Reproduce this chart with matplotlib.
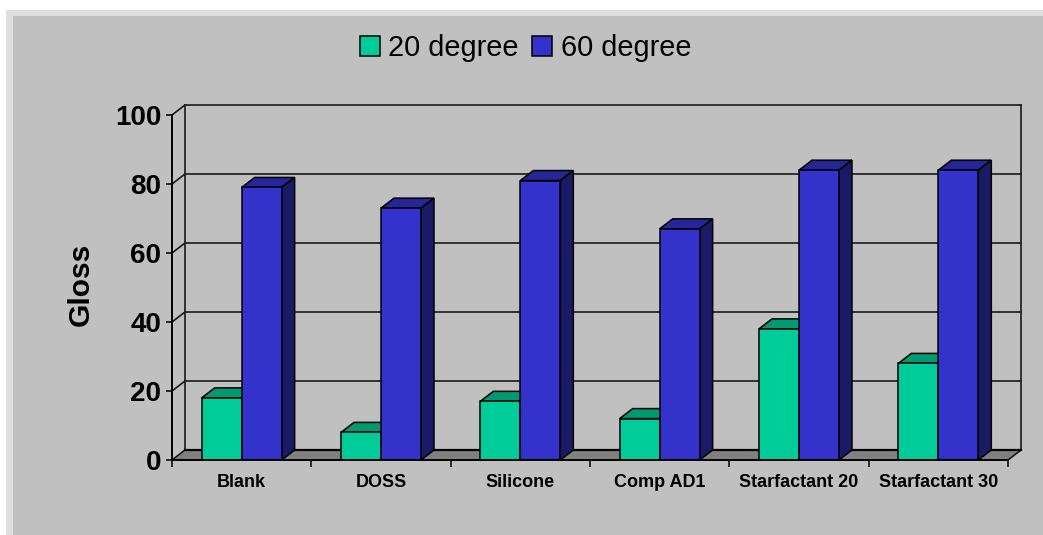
import matplotlib.pyplot as plt
from matplotlib.patches import Polygon, Rectangle

plt.rcParams['font.family'] = ['Liberation Sans', 'DejaVu Sans']

categories = ['Blank', 'DOSS', 'Silicone', 'Comp AD1', 'Starfactant 20', 'Starfactant 30']
gloss_20 = [18, 8, 17, 12, 38, 28]
gloss_60 = [79, 73, 81, 67, 84, 84]
y_ticks = [0, 20, 40, 60, 80, 100]

W, H = 1043, 535
bar_w = 0.287
# fake 3d depth, in data units
dx = 13 / 139.4
dy = 10 / 3.45

fig = plt.figure(figsize=(W / 100, H / 100), dpi=100, facecolor='white')

# chart area background with its lighter border
fig.patches.append(Rectangle((6 / W, 0), 1 - 6 / W, 1 - 10 / H, transform=fig.transFigure, fc='#dedede', ec='none', zorder=-3))
fig.patches.append(Rectangle((13 / W, 0), 1 - 13 / W, 1 - 16 / H, transform=fig.transFigure, fc='#c0c0c0', ec='none', zorder=-2))

ax = fig.add_axes([172 / W, 1 - 460 / H, 836 / W, 345 / H])
ax.patch.set_visible(False)
ax.set_xlim(0, len(categories))
ax.set_ylim(0, 100)

n = len(categories)

# floor
ax.add_patch(Polygon([(0, 0), (dx, dy), (n + dx, dy), (n, 0)], fc='#808080', ec='none', clip_on=False, zorder=1))
ax.plot([dx, n + dx], [dy, dy], color='black', lw=1.6, clip_on=False, zorder=1.5)

# grid lines on the side and back walls
for t in y_ticks[1:]:
	ax.plot([0, dx, n + dx], [t, t + dy, t + dy], color='#1a1a1a', lw=1.2, clip_on=False, zorder=1.2)
ax.plot([0, dx], [0, dy], color='#1a1a1a', lw=1.2, clip_on=False, zorder=1.2)
ax.plot([dx, dx], [dy, 100 + dy], color='#1a1a1a', lw=1.2, clip_on=False, zorder=1.2)
ax.plot([n + dx, n + dx], [dy, 100 + dy], color='#1a1a1a', lw=1.2, clip_on=False, zorder=1.2)
ax.plot([n, n + dx], [0, dy], color='#1a1a1a', lw=1.2, clip_on=False, zorder=1.2)


def draw_bars(values, offset, front, top, side, label, z):
	xs = [i + 0.5 + offset for i in range(n)]
	bars = ax.bar(xs, values, bar_w, align='edge', color=front, edgecolor='black', linewidth=1.1, label=label, zorder=z + 0.1)
	for x, v in zip(xs, values):
		ax.add_patch(Polygon([(x, v), (x + dx, v + dy), (x + bar_w + dx, v + dy), (x + bar_w, v)],
			fc=top, ec='black', lw=1.1, clip_on=False, zorder=z))
		ax.add_patch(Polygon([(x + bar_w, 0), (x + bar_w + dx, dy), (x + bar_w + dx, v + dy), (x + bar_w, v)],
			fc=side, ec='black', lw=1.1, clip_on=False, zorder=z))
	return bars


draw_bars(gloss_20, -bar_w, '#00cc99', '#009970', '#009970', '20 degree', 2)
draw_bars(gloss_60, 0, '#3333cc', '#262699', '#1a1a66', '60 degree', 3)

ax.spines['top'].set_visible(False)
ax.spines['right'].set_visible(False)
ax.spines['left'].set_linewidth(1.4)
ax.spines['bottom'].set_linewidth(1.4)
ax.spines['left'].set_zorder(5)
ax.spines['bottom'].set_zorder(5)

ax.set_yticks(y_ticks)
ax.set_yticklabels([str(t) for t in y_ticks], fontsize=20, fontweight='bold', color='black')
ax.tick_params(axis='y', length=4.3, width=1.1, pad=3.5)

ax.set_xticks(range(n + 1))
ax.set_xticklabels([])
ax.set_xticks([i + 0.5 for i in range(n)], minor=True)
ax.set_xticklabels(categories, minor=True, fontsize=13, fontweight='bold')
ax.tick_params(axis='x', which='major', length=5, width=1.1)
ax.tick_params(axis='x', which='minor', length=0, pad=10)

ax.set_ylabel('Gloss', fontsize=21.5, fontweight='bold')
ax.yaxis.set_label_coords((94.5 - 172) / 836, 0.51)

ax.legend(loc='center', bbox_to_anchor=(525.5 / W, 1 - 48 / H), bbox_transform=fig.transFigure, ncols=2, frameon=False,
	fontsize=20.8, handlelength=0.69, handleheight=0.69, handletextpad=0.3, columnspacing=0.45,
	borderpad=0, borderaxespad=0)

fig.savefig('out.png', dpi=100)
